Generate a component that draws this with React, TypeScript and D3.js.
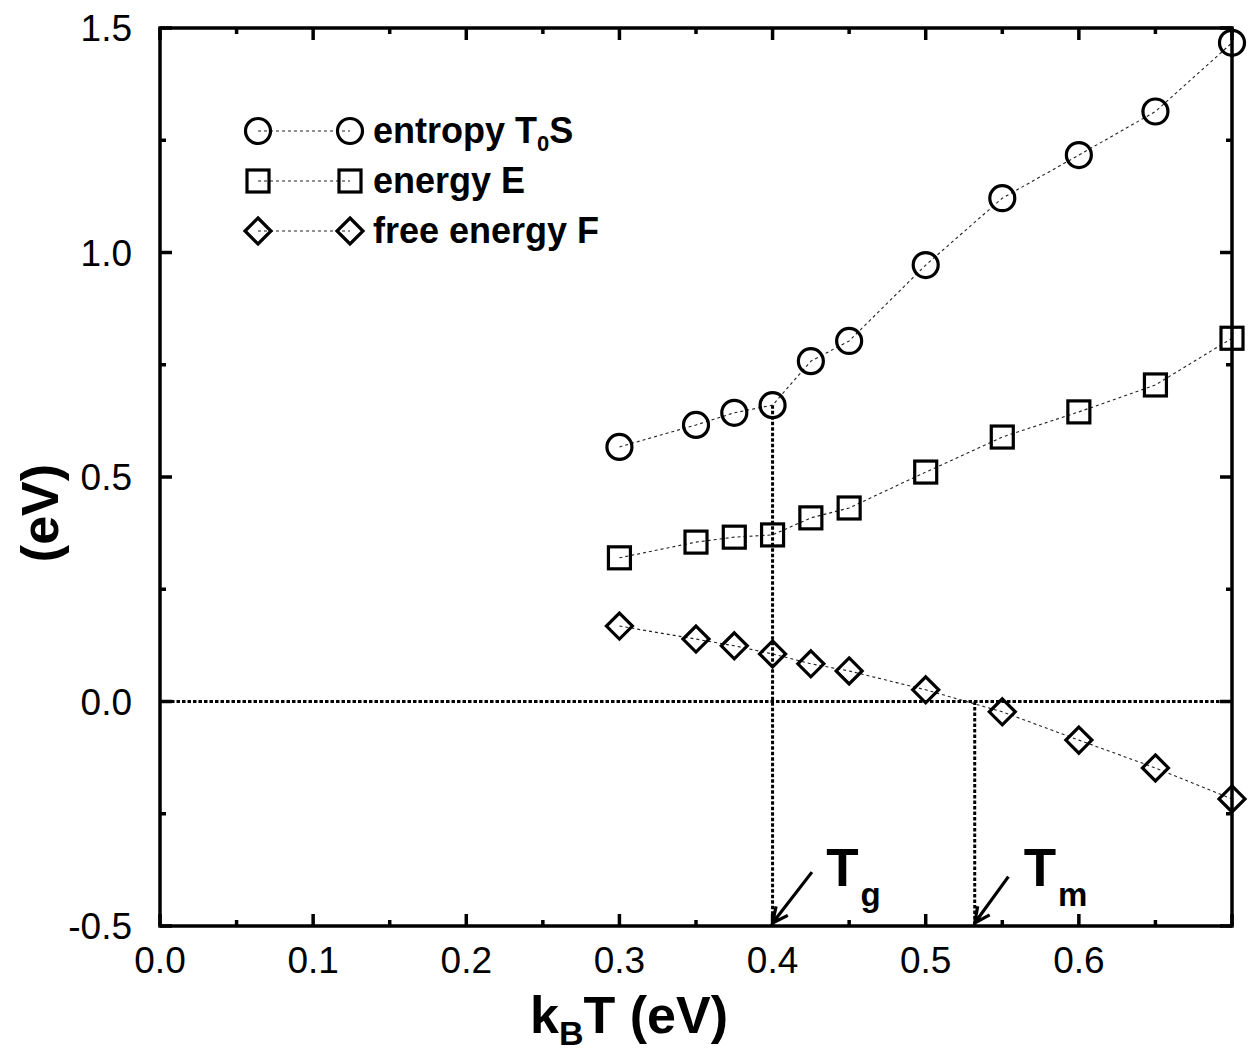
import * as d3 from "d3";
import { useEffect, useRef } from "react";

// temperatures k_B T (eV)
const temps = [0.3, 0.35, 0.375, 0.4, 0.425, 0.45, 0.5, 0.55, 0.6, 0.65, 0.7];
const entropy = [0.567, 0.616, 0.643, 0.66, 0.758, 0.803, 0.972, 1.121, 1.217, 1.314, 1.467];
const energy = [0.32, 0.355, 0.366, 0.371, 0.409, 0.431, 0.511, 0.589, 0.645, 0.705, 0.809];
const freeEnergy = [0.168, 0.139, 0.124, 0.106, 0.084, 0.068, 0.026, -0.023, -0.086, -0.148, -0.217];

const xTicks = [0, 0.1, 0.2, 0.3, 0.4, 0.5, 0.6];
const yTicks = [-0.5, 0, 0.5, 1.0, 1.5];

const tg = 0.4;
const tm = 0.532;

const FONT = "'Liberation Sans', Arial, Helvetica, sans-serif";

type Shape = "circle" | "square" | "diamond";

const fmt = (d: number) => d.toFixed(1);

const drawMarker = (
    g: d3.Selection<SVGGElement, unknown, null, undefined>,
    shape: Shape,
    cx: number,
    cy: number
) => {
    const common = (sel: d3.Selection<any, unknown, null, undefined>) =>
        sel.attr("fill", "none").attr("stroke", "#000").attr("stroke-width", 3.2);
    if (shape === "circle") {
        common(g.append("circle").attr("cx", cx).attr("cy", cy).attr("r", 12.5));
    } else if (shape === "square") {
        common(
            g.append("rect").attr("x", cx - 11).attr("y", cy - 11).attr("width", 22).attr("height", 22)
        );
    } else {
        const s = 13;
        common(
            g.append("path").attr("d", `M${cx},${cy - s}L${cx + s},${cy}L${cx},${cy + s}L${cx - s},${cy}Z`)
        );
    }
};

const App = () => {
    const svgRef = useRef<SVGSVGElement | null>(null);

    const dimensions = { width: 1250, height: 1051 };
    const margin = { top: 28, right: 18, bottom: 125, left: 160 };

    useEffect(() => {
        const svg = d3.select(svgRef.current);
        svg.selectAll("*").remove();

        const xScale = d3
            .scaleLinear()
            .domain([0, 0.7])
            .range([margin.left, dimensions.width - margin.right]);

        const yScale = d3
            .scaleLinear()
            .domain([-0.5, 1.5])
            .range([dimensions.height - margin.bottom, margin.top]);

        const [x0, x1] = xScale.range();
        const [y0, y1] = yScale.range();

        // reference lines (thick dotted)
        const refs = svg.append("g").attr("stroke", "#000").attr("stroke-width", 3)
            .attr("stroke-dasharray", "3.5,2").attr("fill", "none");
        refs.append("line").attr("x1", x0).attr("x2", x1).attr("y1", yScale(0)).attr("y2", yScale(0));
        refs.append("line").attr("x1", xScale(tg)).attr("x2", xScale(tg))
            .attr("y1", yScale(entropy[temps.indexOf(tg)])).attr("y2", y0);
        refs.append("line").attr("x1", xScale(tm)).attr("x2", xScale(tm))
            .attr("y1", yScale(0)).attr("y2", y0);

        // series
        const series: { values: number[]; shape: Shape }[] = [
            { values: entropy, shape: "circle" },
            { values: energy, shape: "square" },
            { values: freeEnergy, shape: "diamond" },
        ];

        const line = d3
            .line<number>()
            .x((_, i) => xScale(temps[i]))
            .y((d) => yScale(d));

        series.forEach((s) => {
            svg.append("path")
                .datum(s.values)
                .attr("d", line)
                .attr("fill", "none")
                .attr("stroke", "#222")
                .attr("stroke-width", 1.1)
                .attr("stroke-dasharray", "3,3");
            const g = svg.append("g");
            s.values.forEach((v, i) => drawMarker(g, s.shape, xScale(temps[i]), yScale(v)));
        });

        // axes frame with ticks on all sides
        const major = 12;
        const minor = 6;
        const frame = svg.append("g").attr("stroke", "#000").attr("stroke-width", 3.5);
        frame.append("rect").attr("x", x0).attr("y", y1).attr("width", x1 - x0)
            .attr("height", y0 - y1).attr("fill", "none");

        d3.range(0, 0.70001, 0.05).forEach((v, i) => {
            const len = i % 2 === 0 ? major : minor;
            const x = xScale(v);
            frame.append("line").attr("x1", x).attr("x2", x).attr("y1", y0).attr("y2", y0 - len);
            frame.append("line").attr("x1", x).attr("x2", x).attr("y1", y1).attr("y2", y1 + len);
        });
        d3.range(-0.5, 1.5001, 0.25).forEach((v, i) => {
            const len = i % 2 === 0 ? major : minor;
            const y = yScale(v);
            frame.append("line").attr("x1", x0).attr("x2", x0 + len).attr("y1", y).attr("y2", y);
            frame.append("line").attr("x1", x1).attr("x2", x1 - len).attr("y1", y).attr("y2", y);
        });

        // tick labels
        svg.append("g")
            .selectAll("text")
            .data(xTicks)
            .join("text")
            .attr("x", (d) => xScale(d))
            .attr("y", y0 + 47)
            .attr("text-anchor", "middle")
            .attr("font-family", FONT)
            .attr("font-size", 37)
            .text(fmt);

        svg.append("g")
            .selectAll("text")
            .data(yTicks)
            .join("text")
            .attr("x", x0 - 28)
            .attr("y", (d) => yScale(d))
            .attr("dy", "0.36em")
            .attr("text-anchor", "end")
            .attr("font-family", FONT)
            .attr("font-size", 37)
            .text(fmt);

        // axis titles
        const xt = svg.append("text")
            .attr("x", 629)
            .attr("y", 1033)
            .attr("text-anchor", "middle")
            .attr("font-family", FONT)
            .attr("font-weight", "bold")
            .attr("font-size", 52);
        xt.append("tspan").text("k");
        xt.append("tspan").attr("font-size", 34).attr("dy", 12).text("B");
        xt.append("tspan").attr("dy", -12).text("T (eV)");

        svg.append("text")
            .attr("transform", `translate(58, 513) rotate(-90)`)
            .attr("text-anchor", "middle")
            .attr("font-family", FONT)
            .attr("font-weight", "bold")
            .attr("font-size", 52)
            .text("(eV)");

        // legend
        const legendRows = [
            { shape: "circle" as Shape, y: 131, main: "entropy T", sub: "0", tail: "S" },
            { shape: "square" as Shape, y: 181, main: "energy E", sub: "", tail: "" },
            { shape: "diamond" as Shape, y: 231, main: "free energy F", sub: "", tail: "" },
        ];
        const lg = svg.append("g");
        legendRows.forEach((r) => {
            lg.append("line").attr("x1", 258).attr("x2", 350).attr("y1", r.y).attr("y2", r.y)
                .attr("stroke", "#222").attr("stroke-width", 1.1).attr("stroke-dasharray", "3,3");
            drawMarker(lg, r.shape, 258, r.y);
            drawMarker(lg, r.shape, 350, r.y);
            const t = lg.append("text")
                .attr("x", 373)
                .attr("y", r.y + 12)
                .attr("font-family", FONT)
                .attr("font-weight", "bold")
                .attr("font-size", 36);
            t.append("tspan").text(r.main);
            if (r.sub) {
                t.append("tspan").attr("font-size", 22).attr("dy", 8).text(r.sub);
                t.append("tspan").attr("dy", -8).text(r.tail);
            }
        });

        // T_g and T_m annotations
        const annotations = [
            { at: tg, tail: [0.4257, -0.38], label: [0.435, -0.411], sub: "g" },
            { at: tm, tail: [0.554, -0.39], label: [0.564, -0.411], sub: "m" },
        ];
        annotations.forEach((a) => {
            const tipX = xScale(a.at);
            const tipY = y0 - 3;
            const tx = xScale(a.tail[0]);
            const ty = yScale(a.tail[1]);
            const ang = Math.atan2(ty - tipY, tx - tipX);
            const head = 17;
            const spread = 0.45;
            const p = d3.path();
            p.moveTo(tx, ty);
            p.lineTo(tipX, tipY);
            p.moveTo(tipX + head * Math.cos(ang + spread), tipY + head * Math.sin(ang + spread));
            p.lineTo(tipX, tipY);
            p.lineTo(tipX + head * Math.cos(ang - spread), tipY + head * Math.sin(ang - spread));
            svg.append("path").attr("d", p.toString()).attr("fill", "none")
                .attr("stroke", "#000").attr("stroke-width", 3.2);
            const t = svg.append("text")
                .attr("x", xScale(a.label[0]))
                .attr("y", yScale(a.label[1]))
                .attr("font-family", FONT)
                .attr("font-weight", "bold")
                .attr("font-size", 53);
            t.append("tspan").text("T");
            t.append("tspan").attr("font-size", 33).attr("dy", 20).attr("dx", 2).text(a.sub);
        });
    }, []);

    return (
        <svg
            ref={svgRef}
            width={dimensions.width}
            height={dimensions.height}
            style={{ position: "absolute", left: 0, top: 0, background: "#fff" }}
        />
    );
};

export default App;
